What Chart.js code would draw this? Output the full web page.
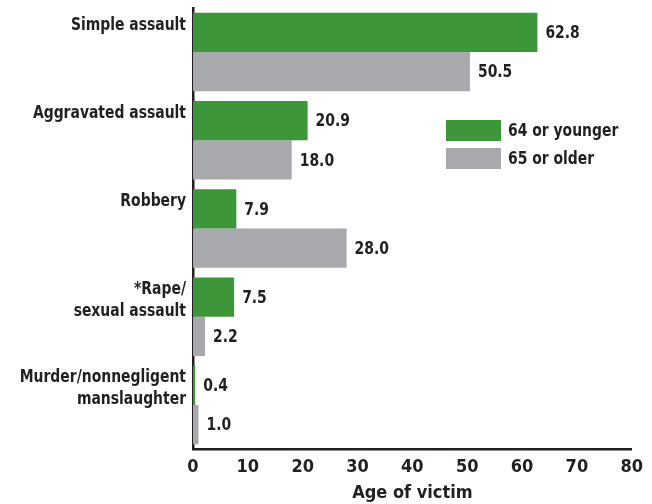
<!DOCTYPE html>
<html>
<head>
<meta charset="utf-8">
<script src="https://cdn.jsdelivr.net/npm/chart.js@4"></script>
<style>
  html, body { margin: 0; padding: 0; background: #fff; }
  #wrap { width: 652px; height: 504px; position: relative; }
</style>
</head>
<body>
<div id="wrap"><canvas id="chart"></canvas></div>
<script>
// data
const categories = [
  ["Simple assault"],
  ["Aggravated assault"],
  ["Robbery"],
  ["*Rape/", "sexual assault"],
  ["Murder/nonnegligent", "manslaughter"]
];
const youngValues = [62.8, 20.9, 7.9, 7.5, 0.4];
const olderValues = [50.5, 18.0, 28.0, 2.2, 1.0];
const seriesNames = ["64 or younger", "65 or older"];
const xTicks = [0, 10, 20, 30, 40, 50, 60, 70, 80];
const axisTitle = "Age of victim";

const GREEN = "#3e963a";
const GRAY = "#a7a9ac";
const INK = "#231f20";
const FONT = '"Liberation Sans Narrow", "DejaVu Sans Condensed", "Roboto", sans-serif';

Chart.defaults.font.family = FONT;
Chart.defaults.color = INK;

function boldFont(size) {
  return "bold " + size + "px " + FONT;
}

// squeeze text a little so it looks like the narrow face in the original
function condensedText(ctx, text, x, y) {
  ctx.save();
  ctx.translate(x, y);
  ctx.scale(0.86, 1);
  ctx.fillText(text, 0, 0);
  ctx.restore();
}

// category names, right aligned next to the top of each group
const categoryLabels = {
  id: "categoryLabels",
  afterDraw(chart) {
    const ctx = chart.ctx;
    const meta = chart.getDatasetMeta(0);
    ctx.save();
    ctx.font = boldFont(18);
    ctx.fillStyle = INK;
    ctx.textAlign = "right";
    ctx.textBaseline = "top";
    categories.forEach((lines, i) => {
      const bar = meta.data[i];
      const top = bar.y - bar.height / 2 + 3;
      lines.forEach((line, j) => {
        condensedText(ctx, line, chart.chartArea.left - 7, top + j * 22);
      });
    });
    ctx.restore();
  }
};

// numbers at the end of each bar
const valueLabels = {
  id: "valueLabels",
  afterDatasetsDraw(chart) {
    const ctx = chart.ctx;
    ctx.save();
    ctx.font = boldFont(18);
    ctx.fillStyle = INK;
    ctx.textAlign = "left";
    ctx.textBaseline = "middle";
    chart.data.datasets.forEach((ds, d) => {
      chart.getDatasetMeta(d).data.forEach((bar, i) => {
        condensedText(ctx, ds.data[i].toFixed(1), bar.x + 8, bar.y + 1);
      });
    });
    ctx.restore();
  }
};

// legend sits inside the plot, right of the second group
const boxLegend = {
  id: "boxLegend",
  afterDraw(chart) {
    const ctx = chart.ctx;
    const colors = [GREEN, GRAY];
    ctx.save();
    ctx.font = boldFont(18);
    ctx.textAlign = "left";
    ctx.textBaseline = "middle";
    seriesNames.forEach((name, i) => {
      const y = 120 + i * 28;
      ctx.fillStyle = colors[i];
      ctx.fillRect(446, y, 55, 21);
      ctx.fillStyle = INK;
      condensedText(ctx, name, 508, y + 11);
    });
    ctx.restore();
  }
};

new Chart(document.getElementById("chart"), {
  type: "bar",
  data: {
    labels: categories,
    datasets: [
      { label: seriesNames[0], data: youngValues, backgroundColor: GREEN },
      { label: seriesNames[1], data: olderValues, backgroundColor: GRAY }
    ]
  },
  options: {
    indexAxis: "y",
    responsive: true,
    maintainAspectRatio: false,
    animation: false,
    categoryPercentage: 0.89,
    barPercentage: 1.0,
    layout: { padding: { top: 8, right: 20, bottom: 0, left: 0 } },
    scales: {
      x: {
        min: 0,
        max: 80,
        afterBuildTicks(scale) {
          scale.ticks = xTicks.map((v) => ({ value: v }));
        },
        grid: { display: false, drawTicks: false },
        border: { display: true, color: INK, width: 2.5 },
        ticks: { font: { size: 18, weight: "bold", lineHeight: 1 }, color: INK, padding: 9, maxRotation: 0 },
        title: {
          display: true,
          text: axisTitle,
          font: { size: 18, weight: "bold", lineHeight: 1 },
          color: INK,
          padding: { top: -1, bottom: 2 }
        }
      },
      y: {
        grid: { display: false, drawTicks: false },
        border: { display: true, color: INK, width: 2.5 },
        ticks: { display: false },
        afterFit(scale) {
          scale.width = 193;
        }
      }
    },
    plugins: {
      legend: { display: false },
      tooltip: { enabled: false }
    }
  },
  plugins: [categoryLabels, valueLabels, boxLegend]
});
</script>
</body>
</html>
